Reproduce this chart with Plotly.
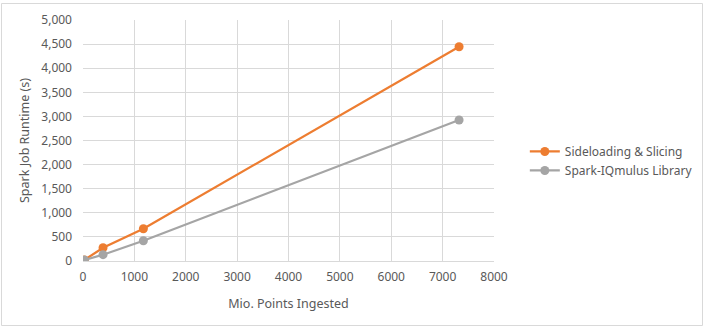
import plotly.graph_objects as go

series_names = ["Sideloading & Slicing", "Spark-IQmulus Library"]
x_points = [25, 390, 1175, 7320]
sideloading = [20, 276, 670, 4446]
iqmulus = [20, 131, 421, 2925]
colors = ["#ED7D31", "#A5A5A5"]

W, H = 704, 327
ml, mr, mt, mb = 83, 210, 20, 66
pw, ph = W - ml - mr, H - mt - mb

fig = go.Figure()
for name, ys, c in zip(series_names, [sideloading, iqmulus], colors):
    fig.add_trace(go.Scatter(x=x_points, y=ys, name=name, mode="lines+markers",
                             line=dict(color=c, width=2.25),
                             marker=dict(color=c, size=9)))

font = "Noto Sans, Open Sans, sans-serif"
fig.update_layout(
    width=W, height=H,
    margin=dict(l=ml, r=mr, t=mt, b=mb, autoexpand=False),
    paper_bgcolor="white", plot_bgcolor="white",
    font=dict(family=font, size=12, color="#595959"),
    showlegend=True,
    legend=dict(x=1.075, y=0.415, xanchor="left", yanchor="middle", itemwidth=30,
                font=dict(size=12, color="#595959"), tracegroupgap=0),
    xaxis=dict(range=[0, 8000], tickvals=[0, 1000, 2000, 3000, 4000, 5000, 6000, 7000, 8000],
               showgrid=True, gridcolor="#D9D9D9", gridwidth=1,
               showline=True, linecolor="#D9D9D9", zeroline=False,
               ticks="", ticklabelstandoff=5,
               title=dict(text="Mio. Points Ingested", font=dict(size=12.5, color="#595959"), standoff=14)),
    yaxis=dict(range=[0, 5000], dtick=500, tickformat=",",
               showgrid=True, gridcolor="#D9D9D9", gridwidth=1,
               zeroline=False, showline=False, ticks="", ticklabelstandoff=10,
               title=dict(text="Spark Job Runtime (s)", font=dict(size=12.5, color="#595959"), standoff=8)),
)
fig.add_shape(type="rect", xref="paper", yref="paper",
              x0=-(ml - 1.5) / pw, x1=1 + (mr - 1.5) / pw,
              y0=-(mb - 1.5) / ph, y1=1 + (mt - 3.5) / ph,
              line=dict(color="#D9D9D9", width=1), layer="below")
fig.write_html("out.html")
